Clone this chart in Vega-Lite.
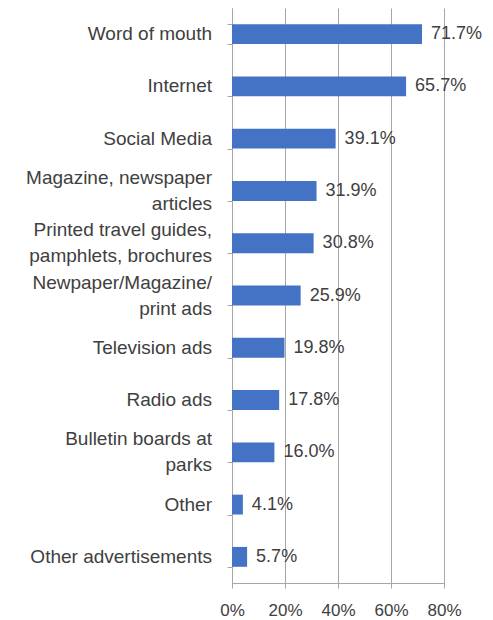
{
  "$schema": "https://vega.github.io/schema/vega-lite/v6.json",
  "width": 212,
  "height": 575,
  "autosize": "none",
  "padding": {"left": 232, "top": 8, "right": 49, "bottom": 37},
  "config": {"view": {"stroke": null}, "font": "Liberation Sans"},
  "data": {
    "values": [
      {"label": "Word of mouth", "value": 0.717},
      {"label": "Internet", "value": 0.657},
      {"label": "Social Media", "value": 0.391},
      {"label": "Magazine, newspaper|articles", "value": 0.319},
      {"label": "Printed travel guides,|pamphlets, brochures", "value": 0.308},
      {"label": "Newpaper/Magazine/|print ads", "value": 0.259},
      {"label": "Television ads", "value": 0.198},
      {"label": "Radio ads", "value": 0.178},
      {"label": "Bulletin boards at|parks", "value": 0.16},
      {"label": "Other", "value": 0.041},
      {"label": "Other advertisements", "value": 0.057}
    ]
  },
  "encoding": {
    "y": {
      "field": "label",
      "type": "nominal",
      "sort": null,
      "scale": {"paddingInner": 0.62, "paddingOuter": 0.31},
      "axis": {
        "title": null,
        "domainColor": "#a6a6a6",
        "tickColor": "#a6a6a6",
        "tickSize": 5,
        "tickBand": "extent",
        "labels": false
      }
    },
    "x": {
      "field": "value",
      "type": "quantitative",
      "scale": {"domain": [0, 0.8], "nice": false},
      "axis": {
        "title": null,
        "grid": true,
        "gridColor": "#a6a6a6",
        "domainColor": "#a6a6a6",
        "tickColor": "#a6a6a6",
        "tickSize": 5,
        "values": [0, 0.2, 0.4, 0.6, 0.8],
        "format": ".0%",
        "labelFontSize": 17,
        "labelPadding": 14,
        "labelColor": "#404040",
        "labelOverlap": false,
        "labelBound": false,
        "labelFlush": false
      }
    }
  },
  "layer": [
    {"mark": {"type": "bar", "color": "#4472C4"}},
    {
      "mark": {"type": "text", "align": "left", "dx": 9, "fontSize": 18, "color": "#404040"},
      "encoding": {"text": {"field": "value", "type": "quantitative", "format": ".1%"}}
    },
    {
      "transform": [{"filter": "indexof(datum.label, '|') < 0"}],
      "mark": {"type": "text", "align": "right", "baseline": "middle", "dx": -20, "fontSize": 19, "color": "#404040"},
      "encoding": {"x": {"datum": 0}, "text": {"field": "label"}}
    },
    {
      "transform": [{"filter": "indexof(datum.label, '|') >= 0"}],
      "mark": {"type": "text", "align": "right", "baseline": "line-bottom", "lineBreak": "|", "lineHeight": 26, "dx": -20, "fontSize": 19, "color": "#404040"},
      "encoding": {"x": {"datum": 0}, "text": {"field": "label"}}
    }
  ]
}
